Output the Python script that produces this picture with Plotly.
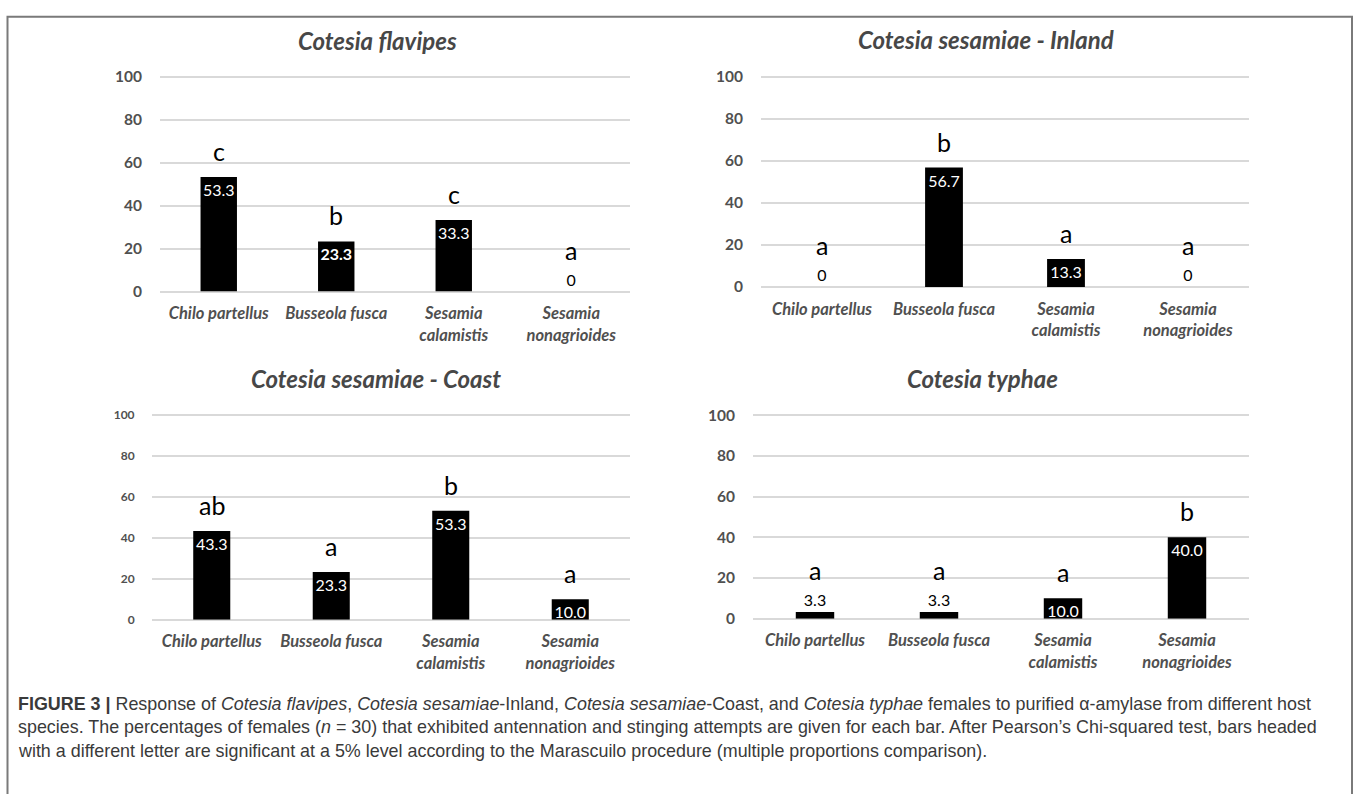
import plotly.graph_objects as go

W, H = 1358, 794

# ---------------- data ----------------
hosts = ["Chilo partellus", "Busseola fusca", "Sesamia calamistis", "Sesamia nonagrioides"]
host_ticktext = ["Chilo partellus", "Busseola fusca", "Sesamia<br>calamistis", "Sesamia<br>nonagrioides"]

titles = ["Cotesia flavipes", "Cotesia sesamiae - Inland", "Cotesia sesamiae - Coast", "Cotesia typhae"]

flavipes = [53.3, 23.3, 33.3, 0]
inland = [0, 56.7, 13.3, 0]
coast = [43.3, 23.3, 53.3, 10.0]
typhae = [3.3, 3.3, 10.0, 40.0]

flavipes_letters = ["c", "b", "c", "a"]
inland_letters = ["a", "b", "a", "a"]
coast_letters = ["ab", "a", "b", "a"]
typhae_letters = ["a", "a", "a", "b"]

y_ticks = [0, 20, 40, 60, 80, 100]

series = [flavipes, inland, coast, typhae]
letters = [flavipes_letters, inland_letters, coast_letters, typhae_letters]

# ---------------- styling / layout (pixel boxes) ----------------
# value labels drawn in bold in the original (only one, a quirk of the source figure)
bold_label = [[False, True, False, False], [False] * 4, [False] * 4, [False] * 4]

# (left, right, top, bottom) of plotting areas
boxes = [(160, 630, 69, 288.7), (761, 1249, 69, 284), (152, 630, 415, 624), (753, 1249, 415, 623)]
title_pos = [(377, 32), (986, 31), (376, 378), (982, 378)]
tick_sizes = [15.5, 15.5, 12, 15.5]

TXT = "#505050"
GRID = "#d9d9d9"
FONT = "Lato"
YMAX = 100.5

fig = go.Figure()
layout = dict(width=W, height=H, margin=dict(l=0, r=0, t=0, b=0),
              paper_bgcolor="white", plot_bgcolor="white", showlegend=False)
annotations = []

for i, (vals, lets) in enumerate(zip(series, letters)):
    n = "" if i == 0 else str(i + 1)
    l, r, t, b = boxes[i]
    t = b - (b - t) * YMAX / 100.0
    small = [v < 8 for v in vals]
    labels = [f"{v:.1f}" if v > 0 else "0" for v in vals]
    labels = [f"<b>{s}</b>" if bb else s for s, bb in zip(labels, bold_label[i])]
    fig.add_trace(go.Bar(
        x=hosts, y=vals, width=0.31,
        marker=dict(color="black", line=dict(width=0)),
        text=labels,
        textposition=["outside" if s else "inside" for s in small],
        insidetextanchor="end",
        insidetextfont=dict(color="white", size=16, family=FONT),
        outsidetextfont=dict(color="black", size=16, family=FONT),
        constraintext="none", cliponaxis=False, textangle=0,
        xaxis="x" + n, yaxis="y" + n, hoverinfo="skip"))
    layout["xaxis" + n] = dict(
        domain=[l / W, r / W], anchor="y" + n, type="category",
        categoryorder="array", categoryarray=hosts,
        tickvals=hosts, ticktext=host_ticktext,
        range=[-0.5, 3.5], showgrid=False, zeroline=False, showline=False,
        ticks="outside", ticklen=7, tickcolor="rgba(0,0,0,0)",
        tickfont=dict(family=FONT, size=16.5, color=TXT, weight="bold", style="italic"))
    layout["yaxis" + n] = dict(
        domain=[1 - b / H, 1 - t / H], anchor="x" + n,
        range=[0, YMAX], tickvals=y_ticks, showgrid=True, gridcolor=GRID, gridwidth=1.8,
        zeroline=True, zerolinecolor=GRID, zerolinewidth=1.8, showline=False,
        ticks="outside", ticklen=14, tickcolor="rgba(0,0,0,0)",
        tickfont=dict(family=FONT, size=tick_sizes[i], color=TXT, weight="bold"))
    # panel title
    tx, ty = title_pos[i]
    annotations.append(dict(text=titles[i], x=tx / W, y=1 - ty / H, xref="paper", yref="paper",
                            xanchor="center", yanchor="middle", showarrow=False,
                            font=dict(family=FONT, size=24, color="#474747", weight="bold", style="italic")))
    # significance letters
    for h, v, s, lt in zip(hosts, vals, small, lets):
        annotations.append(dict(text=lt, x=h, y=v, xref="x" + n, yref="y" + n,
                                xanchor="center", yanchor="middle", yshift=42 if s else 26,
                                showarrow=False, font=dict(family=FONT, size=25, color="black")))

# caption
cap_lines = [
    "<b>FIGURE 3 |</b> Response of <i>Cotesia flavipes</i>, <i>Cotesia sesamiae</i>-Inland, "
    "<i>Cotesia sesamiae</i>-Coast, and <i>Cotesia typhae</i> females to purified \u03b1-amylase from different host",
    "species. The percentages of females (<i>n</i> = 30) that exhibited antennation and stinging attempts are "
    "given for each bar. After Pearson\u2019s Chi-squared test, bars headed",
    "with a different letter are significant at a 5% level according to the Marascuilo procedure "
    "(multiple proportions comparison).",
]
cap_y = [710, 734, 758]
for txt, yy in zip(cap_lines, cap_y):
    annotations.append(dict(text=txt, x=16 / W, y=1 - yy / H, xref="paper", yref="paper",
                            xanchor="left", yanchor="middle", showarrow=False, align="left",
                            font=dict(family="Liberation Sans", size=17.9, color="#3a3a3a")))

layout["annotations"] = annotations
layout["shapes"] = [dict(type="path", xref="paper", yref="paper",
                         path=f"M {7.5/W},-0.1 L {7.5/W},{1-8/H} L {1352/W},{1-8/H} L {1352/W},-0.1",
                         line=dict(color="#7a7a7a", width=2))]
fig.update_layout(**layout)
fig.write_html("out.html", config={"displayModeBar": False},
               post_script="document.body.style.margin='0';document.body.style.overflow='hidden';")
